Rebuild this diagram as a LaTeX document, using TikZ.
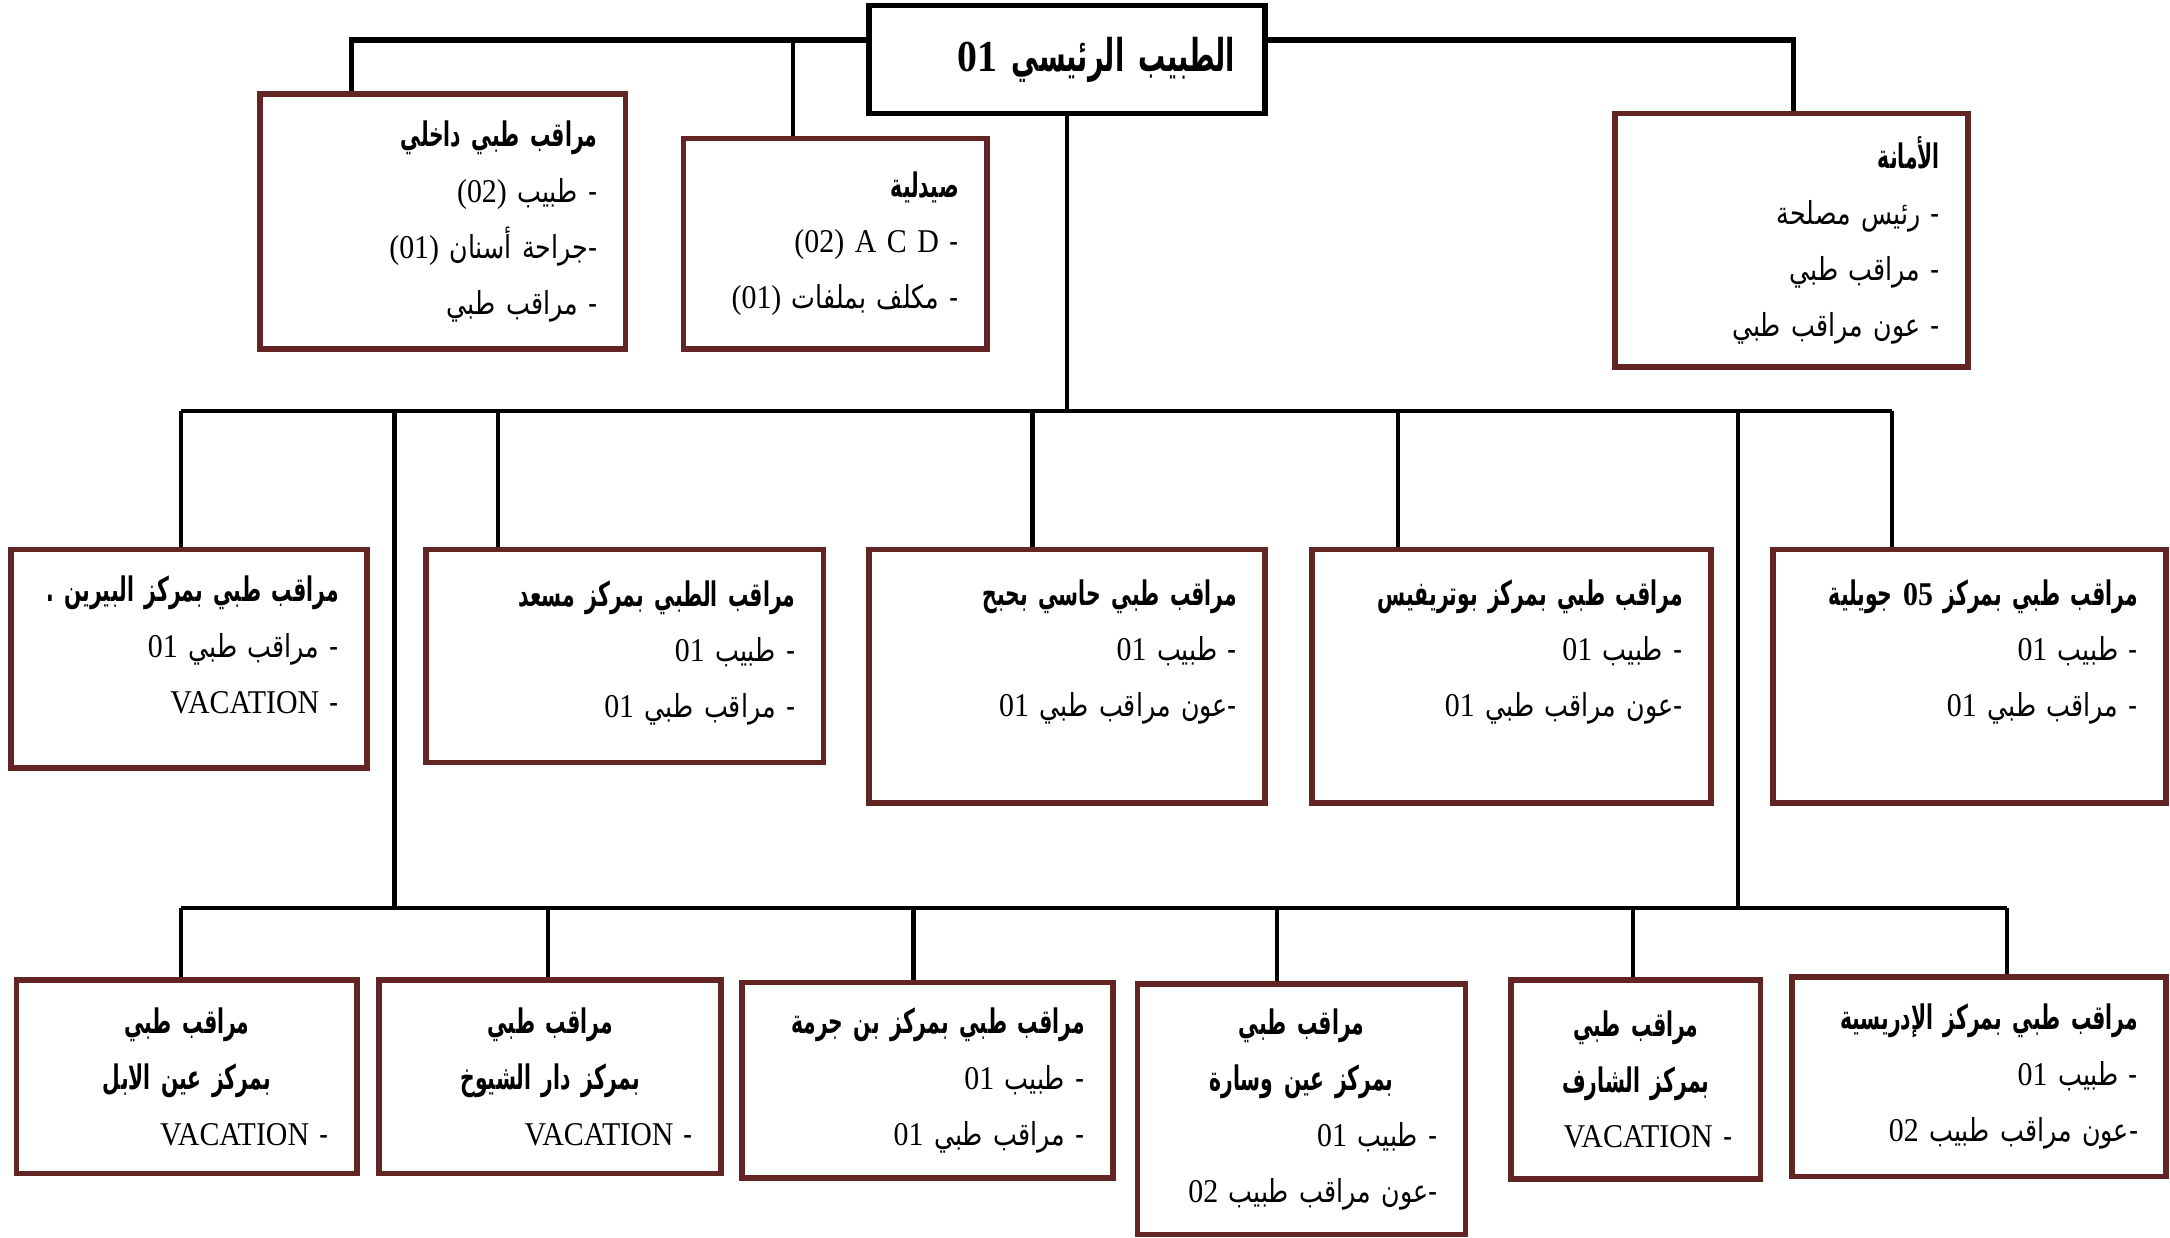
\documentclass[tikz,border=0pt]{standalone}
\usepackage{fontspec}
\usepackage{tikz}
\usetikzlibrary{positioning}
\TeXXeTstate=1
\newfontfamily\arabicfont[Script=Arabic,FakeStretch=0.8]{DejaVu Sans}
\newfontfamily\arabicbf[Script=Arabic,FakeStretch=0.6,Scale=1.07]{DejaVu Sans}
\newfontfamily\latinfont[FakeStretch=0.9,Scale=1.05]{Liberation Serif}
\definecolor{boxred}{RGB}{99,37,36}
\newcommand{\ar}[1]{{\arabicfont\beginR #1\endR}}
\newcommand{\art}[1]{{\arabicbf\bfseries\beginR #1\endR}}
\newcommand{\lat}[1]{\beginL{\latinfont #1}\endL{}}
\newcommand{\ctr}[1]{\leavevmode\hbox to\hsize{\hfil#1\hfil}}

\begin{document}
\begin{tikzpicture}[
  unit/.style={draw=boxred, line width=1.6pt, align=right, inner xsep=0.28cm, font=\fontsize{9}{15.9}\selectfont},
  head/.style={draw=black, line width=1.6pt, align=right, inner xsep=0.3cm, font=\fontsize{12}{14}\selectfont\bfseries},
  link/.style={draw=black, line width=1.2pt},
  toplink/.style={draw=black, line width=1.5pt}
]
\useasboundingbox (0,0) rectangle (21.70,-12.37);

\node[head, text width=3.36cm, minimum width=3.958cm, minimum height=1.08cm] (chief) at (10.67,-0.595) {\art{الطبيب الرئيسي \lat{01}}};

% first level
\node[unit, text width=3.09cm, minimum width=3.653cm, minimum height=2.546cm] (daak) at (4.4285,-2.214) {\art{مراقب طبي داخلي}\\ \ar{- طبيب \lat{(02)}}\\ \ar{-\kern0pt جراحة أسنان \lat{(01)}}\\ \ar{- مراقب طبي}};
\node[unit, text width=2.47cm, minimum width=3.031cm, minimum height=2.103cm] (pharm) at (8.3515,-2.4355) {\art{صيدلية}\\ \ar{- \lat{(02) A C D}}\\ \ar{- مكلف بملفات \lat{(01)}}};
\node[unit, text width=2.97cm, minimum width=3.529cm, minimum height=2.532cm] (amana) at (17.9145,-2.401) {\art{الأمانة}\\ \ar{- رئيس مصلحة}\\ \ar{- مراقب طبي}\\ \ar{- عون مراقب طبي}};

% centres, middle row
\node[unit, text width=3.0cm, minimum width=3.556cm, minimum height=2.187cm] (b1) at (1.889,-6.5875) {\art{مراقب طبي بمركز البيرين .}\\ \ar{- مراقب طبي \lat{01}}\\ \ar{- \lat{VACATION}}\\[-0.28cm] \mbox{}};
\node[unit, text width=3.41cm, minimum width=3.972cm, minimum height=2.131cm] (b2) at (6.248,-6.5595) {\art{مراقب الطبي بمركز مسعد}\\ \ar{- طبيب \lat{01}}\\ \ar{- مراقب طبي \lat{01}}\\[-0.42cm] \mbox{}};
\node[unit, text width=3.4cm, minimum width=3.958cm, minimum height=2.533cm] (b3) at (10.67,-6.7605) {\art{مراقب طبي حاسي بحبح}\\ \ar{- طبيب \lat{01}}\\ \ar{-\kern0pt عون مراقب طبي \lat{01}}\\ \mbox{}};
\node[unit, text width=3.43cm, minimum width=3.986cm, minimum height=2.533cm] (b4) at (15.112,-6.7605) {\art{مراقب طبي بمركز بوتريفيس}\\ \ar{- طبيب \lat{01}}\\ \ar{-\kern0pt عون مراقب طبي \lat{01}}\\ \mbox{}};
\node[unit, text width=3.37cm, minimum width=3.932cm, minimum height=2.533cm] (b5) at (19.694,-6.7605) {\art{مراقب طبي بمركز \lat{05} جويلية}\\ \ar{- طبيب \lat{01}}\\ \ar{- مراقب طبي \lat{01}}\\ \mbox{}};

% centres, lower row
\node[unit, text width=2.84cm, minimum width=3.404cm, minimum height=1.937cm] (c1) at (1.868,-10.7665) {\ctr{\art{مراقب طبي}}\\ \ctr{\art{بمركز عين الابل}}\\ \ar{- \lat{VACATION}}};
\node[unit, text width=2.86cm, minimum width=3.418cm, minimum height=1.937cm] (c2) at (5.501,-10.7665) {\ctr{\art{مراقب طبي}}\\ \ctr{\art{بمركز دار الشيوخ}}\\ \ar{- \lat{VACATION}}};
\node[unit, text width=3.15cm, minimum width=3.709cm, minimum height=1.951cm] (c3) at (9.2725,-10.8015) {\art{مراقب طبي بمركز بن جرمة}\\ \ar{- طبيب \lat{01}}\\ \ar{- مراقب طبي \lat{01}}};
\node[unit, text width=2.72cm, minimum width=3.279cm, minimum height=2.504cm] (c4) at (13.0155,-11.092) {\ctr{\art{مراقب طبي}}\\ \ctr{\art{بمركز عين وسارة}}\\ \ar{- طبيب \lat{01}}\\ \ar{-\kern0pt عون مراقب طبيب \lat{02}}};
\node[unit, text width=1.93cm, minimum width=2.491cm, minimum height=1.993cm] (c5) at (16.3575,-10.7945) {\ctr{\art{مراقب طبي}}\\ \ctr{\art{بمركز الشارف}}\\ \ar{- \lat{VACATION}}};
\node[unit, text width=3.18cm, minimum width=3.738cm, minimum height=1.993cm] (c6) at (19.791,-10.7665) {\art{مراقب طبي بمركز الإدريسية}\\ \ar{- طبيب \lat{01}}\\ \ar{-\kern0pt عون مراقب طبيب \lat{02}}};

% top branches
\coordinate (tl) at (3.515,-0.40);
\coordinate (tp) at (7.930,-0.40);
\coordinate (tr) at (17.935,-0.40);
\draw[toplink] (chief.west |- tl) -- (tl) -- (tl |- daak.north);
\draw[link] (tp) -- (tp |- pharm.north);
\draw[toplink] (chief.east |- tr) -- (tr) -- (tr |- amana.north);

% middle bus
\coordinate (m1) at (1.813,-4.11);
\coordinate (ma) at (3.944,-4.11);
\coordinate (m2) at (4.982,-4.11);
\coordinate (m3) at (10.324,-4.11);
\coordinate (m4) at (13.977,-4.11);
\coordinate (mb) at (17.382,-4.11);
\coordinate (m5) at (18.918,-4.11);
\draw[link] (chief.south) -- (chief.south |- m1);
\draw[link] (m1) -- (m5);
\draw[link] (m1) -- (m1 |- b1.north);
\draw[link] (m2) -- (m2 |- b2.north);
\draw[link] (m3) -- (m3 |- b3.north);
\draw[link] (m4) -- (m4 |- b4.north);
\draw[link] (m5) -- (m5 |- b5.north);

% lower bus
\coordinate (l1) at (1.813,-9.078);
\coordinate (l2) at (5.48,-9.078);
\coordinate (l3) at (9.134,-9.078);
\coordinate (l4) at (12.773,-9.078);
\coordinate (l5) at (16.33,-9.078);
\coordinate (l6) at (20.067,-9.078);
\draw[link] (ma) -- (ma |- l1);
\draw[link] (mb) -- (mb |- l1);
\draw[link] (l1) -- (l6);
\draw[link] (l1) -- (l1 |- c1.north);
\draw[link] (l2) -- (l2 |- c2.north);
\draw[link] (l3) -- (l3 |- c3.north);
\draw[link] (l4) -- (l4 |- c4.north);
\draw[link] (l5) -- (l5 |- c5.north);
\draw[link] (l6) -- (l6 |- c6.north);
\end{tikzpicture}
\end{document}
